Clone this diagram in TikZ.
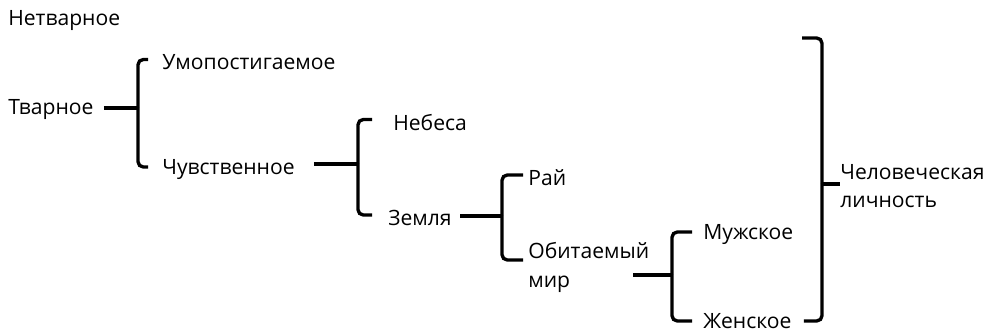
\documentclass[tikz,border=0pt]{standalone}
\usepackage{fontspec}
\setmainfont{Open Sans}
\begin{document}
\begin{tikzpicture}[
	word/.style={anchor=west, inner sep=0pt, font=\fontsize{12}{16.2}\selectfont, align=left},
	brace/.style={line width=1.9pt, rounded corners=3pt}]
			
			\useasboundingbox (0,0) rectangle (20,-6.68);
			
			%Words
			\node (Netvarnoe) at (0.16,-0.42) [word]{Нетварное};
			\node (Tvarnoe) at (0.16,-2.2) [word]{Тварное};
			\node (Umopostigaemoe) at (3.24,-1.25) [word]{Умопостигаемое};
			\node (Chuvstvennoe) at (3.24,-3.4) [word]{Чувственное};
			\node (Nebesa) at (7.86,-2.45) [word]{Небеса};
			\node (Zemlya) at (7.76,-4.36) [word]{Земля};
			\node (Rai) at (10.56,-3.56) [word]{Рай};
			\node (Obitaemyi) at (10.56,-5.35) [word]{Обитаемый\\мир};
			\node (Muzhskoe) at (14.06,-4.7) [word]{Мужское};
			\node (Zhenskoe) at (14.06,-6.42) [word]{Женское};
			\node (Chelovek) at (16.8,-3.72) [word]{Человеческая\\личность};
			
			%First brace
			\coordinate (b1) at (2.76,-2.16);
			\draw[brace] ([xshift=2mm]b1 -| Tvarnoe.east) -- (b1);
			\draw[brace] (b1) |- ([xshift=-2.8mm,yshift=0.6mm]Umopostigaemoe.west);
			\draw[brace] (b1) |- ([xshift=-2.8mm,yshift=0.6mm]Chuvstvennoe.west);
			
			%Second brace
			\coordinate (b2) at (7.16,-3.28);
			\draw[brace] ([xshift=3.8mm]b2 -| Chuvstvennoe.east) -- (b2);
			\draw[brace] (b2) |- ([xshift=-4.2mm,yshift=0.6mm]Nebesa.west);
			\draw[brace] (b2) |- ([xshift=-3.2mm,yshift=0.6mm]Zemlya.west);
			
			%Third brace
			\coordinate (b3) at (10.04,-4.32);
			\draw[brace] ([xshift=1.6mm]b3 -| Zemlya.east) -- (b3);
			\draw[brace] (b3) |- ([xshift=-1mm,yshift=0.6mm]Rai.west);
			\draw[brace] (b3) |- ([xshift=-1mm,yshift=1.5mm]Obitaemyi.west);
			
			%Fourth brace
			\coordinate (a4) at (12.66,-5.5);
			\coordinate (b4) at (13.44,-5.5);
			\draw[brace] (a4) -- (b4);
			\draw[brace] (b4) |- ([xshift=-2.2mm,yshift=0.6mm]Muzhskoe.west);
			\draw[brace] (b4) |- ([xshift=-2.2mm]Zhenskoe.west);
			
			%Fifth brace
			\coordinate (b5) at (16.44,-3.68);
			\coordinate (top5) at (16.04,-0.76);
			\draw[brace] (top5) -| (b5);
			\draw[brace] ([xshift=2.4mm]Zhenskoe.east) -| (b5);
			\draw[brace] (b5) -- (b5 -| Chelovek.west);
			
\end{tikzpicture}
\end{document}
